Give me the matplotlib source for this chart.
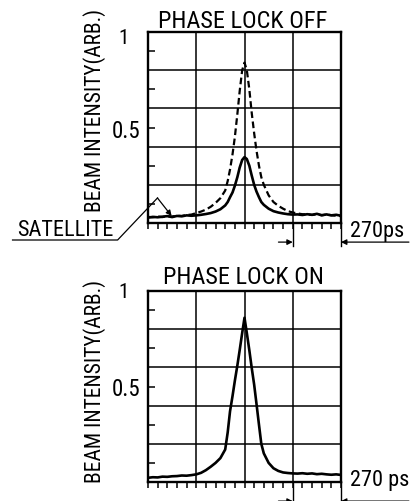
import matplotlib
matplotlib.use("Agg")
import matplotlib.pyplot as plt

# Time axis (ps), shared by both traces
X_PS = [-540, -513, -486, -459, -432, -405, -378, -351, -324, -297, -270,
        -243, -216, -189, -162, -135, -108, -94, -81, -67, -54, -40, -27,
        -13, 0, 13, 27, 40, 54, 67, 81, 94, 108, 135, 162, 189, 216, 243,
        270, 297, 324, 351, 378, 405, 432, 459, 486, 513, 540]

# Phase lock OFF: dashed trace
OFF_DASHED = [0.032, 0.030, 0.034, 0.031, 0.036, 0.034, 0.038, 0.037, 0.042,
              0.044, 0.052, 0.060, 0.070, 0.085, 0.105, 0.130, 0.170, 0.220,
              0.280, 0.360, 0.450, 0.570, 0.690, 0.800, 0.840, 0.800, 0.700,
              0.580, 0.470, 0.380, 0.300, 0.240, 0.200, 0.145, 0.110, 0.090,
              0.075, 0.062, 0.055, 0.050, 0.046, 0.045, 0.042, 0.046, 0.040,
              0.044, 0.041, 0.038, 0.036]

# Phase lock OFF: solid trace
OFF_SOLID = [0.028, 0.032, 0.030, 0.033, 0.036, 0.031, 0.037, 0.035, 0.040,
             0.038, 0.040, 0.043, 0.047, 0.052, 0.060, 0.072, 0.092, 0.110,
             0.135, 0.160, 0.195, 0.240, 0.290, 0.330, 0.345, 0.335, 0.300,
             0.250, 0.200, 0.165, 0.135, 0.110, 0.095, 0.075, 0.062, 0.055,
             0.050, 0.046, 0.044, 0.045, 0.042, 0.046, 0.043, 0.048, 0.041,
             0.045, 0.040, 0.043, 0.038]

# Phase lock ON
ON_SOLID = [0.022, 0.025, 0.024, 0.028, 0.027, 0.030, 0.031, 0.034, 0.033,
            0.036, 0.040, 0.048, 0.062, 0.080, 0.100, 0.125, 0.170, 0.260,
            0.370, 0.450, 0.530, 0.610, 0.690, 0.780, 0.860, 0.780, 0.690,
            0.600, 0.510, 0.410, 0.300, 0.200, 0.150, 0.100, 0.072, 0.058,
            0.050, 0.047, 0.045, 0.044, 0.046, 0.043, 0.045, 0.041, 0.043,
            0.040, 0.038, 0.040, 0.037]

plt.rcParams["font.family"] = ["Roboto Condensed", "DejaVu Sans"]

W, H = 417, 502
fig = plt.figure(figsize=(W / 100, H / 100), dpi=100)


def px(x, y):
    return x / W, 1 - y / H


def arrow(ax, tip, tail):
    ax.annotate("", xy=tip, xytext=tail,
                arrowprops=dict(arrowstyle="-|>", color="black", lw=0.9,
                                mutation_scale=8, shrinkA=0, shrinkB=0),
                annotation_clip=False)


def setup(ax):
    ax.set_xlim(-540, 540)
    ax.set_ylim(0, 1)
    for s in ax.spines.values():
        s.set_linewidth(1.7)
    ax.set_xticks([-270, 0, 270])
    ax.set_xticks(range(-540, 541, 54), minor=True)
    ax.set_yticks([0.2, 0.4, 0.6, 0.8])
    ax.set_yticks([0.1, 0.3, 0.5, 0.7, 0.9], minor=True)
    ax.set_xticklabels([])
    ax.set_yticklabels([])
    ax.tick_params(axis="x", which="both", direction="out", length=4,
                   width=1.1, top=False)
    ax.tick_params(axis="y", which="major", length=0)
    ax.tick_params(axis="y", which="minor", direction="in", length=5,
                   width=1.1, right=False)
    ax.grid(True, which="major", color="black", linewidth=1.1)
    # the 270ps marker lines run below the axis
    for xv in (270, 540):
        ax.plot([xv, xv], [0, -0.12], color="black", lw=1.0, clip_on=False)
    arrow(ax, (270, -0.1), (190, -0.1))
    arrow(ax, (540, -0.1), (920, -0.1))


# ---- top panel: phase lock off ----
ax1 = fig.add_axes([148 / W, 1 - 224 / H, 193 / W, 191 / H])
setup(ax1)
ax1.plot(X_PS, OFF_DASHED, color="black", lw=1.6, linestyle=(0, (3, 1.6)))
ax1.plot(X_PS, OFF_SOLID, color="black", lw=1.9)

# satellite leader line
ax1.plot([-1298, -710, -487], [-0.089, -0.089, 0.131], color="black",
         lw=0.9, clip_on=False)
arrow(ax1, (-408, 0.037), (-487, 0.131))

fig.text(*px(243, 22), "PHASE LOCK OFF", ha="center", va="center",
         fontsize=17.5)
fig.text(*px(95, 110), "BEAM INTENSITY(ARB.)", rotation=90, ha="center",
         va="center", fontsize=15.5)
fig.text(*px(124, 38), "1", ha="center", va="center", fontsize=15)
fig.text(*px(126, 132), "0.5", ha="center", va="center", fontsize=16.5)
fig.text(*px(350, 231), "270ps", ha="left", va="center", fontsize=16)
fig.text(*px(65, 231), "SATELLITE", ha="center", va="center", fontsize=16)

# ---- bottom panel: phase lock on ----
ax2 = fig.add_axes([148 / W, 1 - 483 / H, 193 / W, 191 / H])
setup(ax2)
ax2.plot(X_PS, ON_SOLID, color="black", lw=1.9)

fig.text(*px(243, 278), "PHASE LOCK ON", ha="center", va="center",
         fontsize=17.5)
fig.text(*px(95, 381), "BEAM INTENSITY(ARB.)", rotation=90, ha="center",
         va="center", fontsize=15.5)
fig.text(*px(124, 293), "1", ha="center", va="center", fontsize=15)
fig.text(*px(126, 390), "0.5", ha="center", va="center", fontsize=16.5)
fig.text(*px(350, 481), "270 ps", ha="left", va="center", fontsize=16)

fig.savefig("out.png", dpi=100)
